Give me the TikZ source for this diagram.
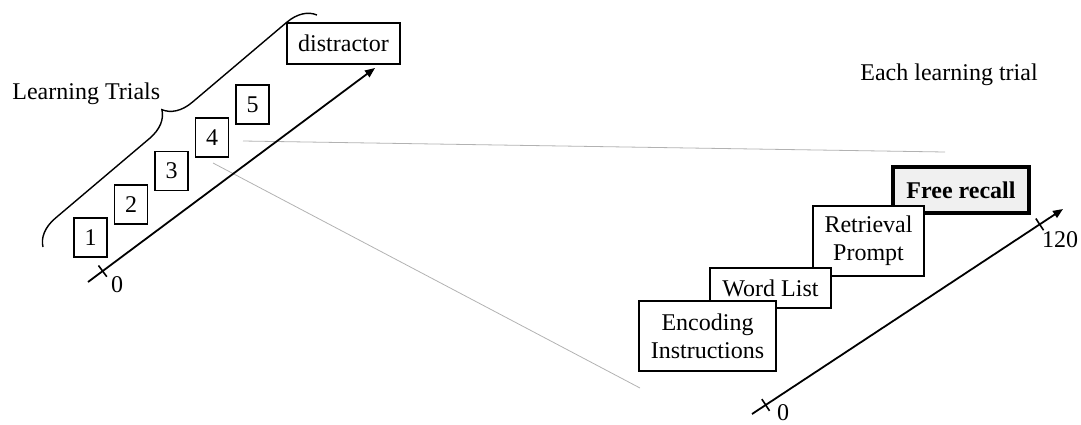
\documentclass[tikz,border=0pt]{standalone}
\usepackage{fontspec}
\setmainfont{Liberation Serif}
\usetikzlibrary{arrows.meta,decorations.pathreplacing,calc}

\begin{document}
\begin{tikzpicture}[x=0.5pt,y=-0.5pt,
    font=\fontsize{12}{14}\selectfont,
    box/.style={draw, fill=white, line width=0.8pt, inner sep=0pt, align=center},
    trialbox/.style={box, minimum width=16.5pt, minimum height=19.5pt},
    axis/.style={line width=0.9pt, -{Triangle[length=5pt,width=4pt]}},
    tick/.style={line width=0.8pt},
    zoomline/.style={gray!60, line width=0.4pt}]
    \useasboundingbox (0,0) rectangle (1081,424);

    % Zoom lines from trial 4 to the single trial
    \coordinate (zoomA) at (243,141);
    \coordinate (zoomB) at (945,152);
    \coordinate (zoomC) at (213,163);
    \coordinate (zoomD) at (640,388);
    \draw[zoomline] (zoomA) -- (zoomB);
    \draw[zoomline] (zoomC) -- (zoomD);

    % Time axis of the whole session
    \coordinate (L0) at (88,282);
    \coordinate (L1) at (375,68);
    \draw[axis] (L0) -- (L1) coordinate[pos=0.051] (Ltick);
    \draw[tick] ($(Ltick)!3.5pt!90:(L1)$) -- ($(Ltick)!3.5pt!-90:(L1)$);
    \node (Lzero) at (117,285) {0};

    % Learning trials
    \foreach \n in {1,...,5} {
        \node[trialbox] (t\n) at (90.5+40.5*\n-40.5, 237.5-33.25*\n+33.25) {\n};
    }
    \node[box, minimum width=56.5pt, minimum height=20.5pt] (distr) at (343.5,43.5) {distractor};

    % Brace over the trials
    \coordinate (braceLo) at (43,247);
    \coordinate (braceHi) at (317,15);
    \draw[line width=0.7pt, decorate, decoration={brace, amplitude=14pt}] (braceLo) -- (braceHi);
    \node[anchor=base west, inner sep=0pt] (learn) at (12,99) {Learning Trials};

    % One learning trial
    \node[anchor=base west, inner sep=0pt] (each) at (860,80) {Each learning trial};
    \node[box, line width=1.6pt, fill=gray!12, minimum width=68pt, minimum height=23pt] (recall) at (961,190) {\textbf{Free recall}};
    \node[box, minimum width=55.5pt, minimum height=35pt] (prompt) at (868.5,241) {Retrieval\\Prompt};
    \node[box, minimum width=60.5pt, minimum height=20pt] (words) at (770.5,288) {Word List};
    \node[box, minimum width=68.5pt, minimum height=35pt] (encode) at (707.5,336) {Encoding\\Instructions};

    % Time axis of one trial
    \coordinate (R0) at (752,414);
    \coordinate (R1) at (1063,209);
    \draw[axis] (R0) -- (R1) coordinate[pos=0.044] (Rtick0) coordinate[pos=0.925] (Rtick1);
    \draw[tick] ($(Rtick0)!3.5pt!90:(R1)$) -- ($(Rtick0)!3.5pt!-90:(R1)$);
    \draw[tick] ($(Rtick1)!3.5pt!90:(R1)$) -- ($(Rtick1)!3.5pt!-90:(R1)$);
    \node[inner sep=0pt] (Rzero) at (783,413) {0};
    \node (Rend) at (1060,240) {120};
\end{tikzpicture}
\end{document}
